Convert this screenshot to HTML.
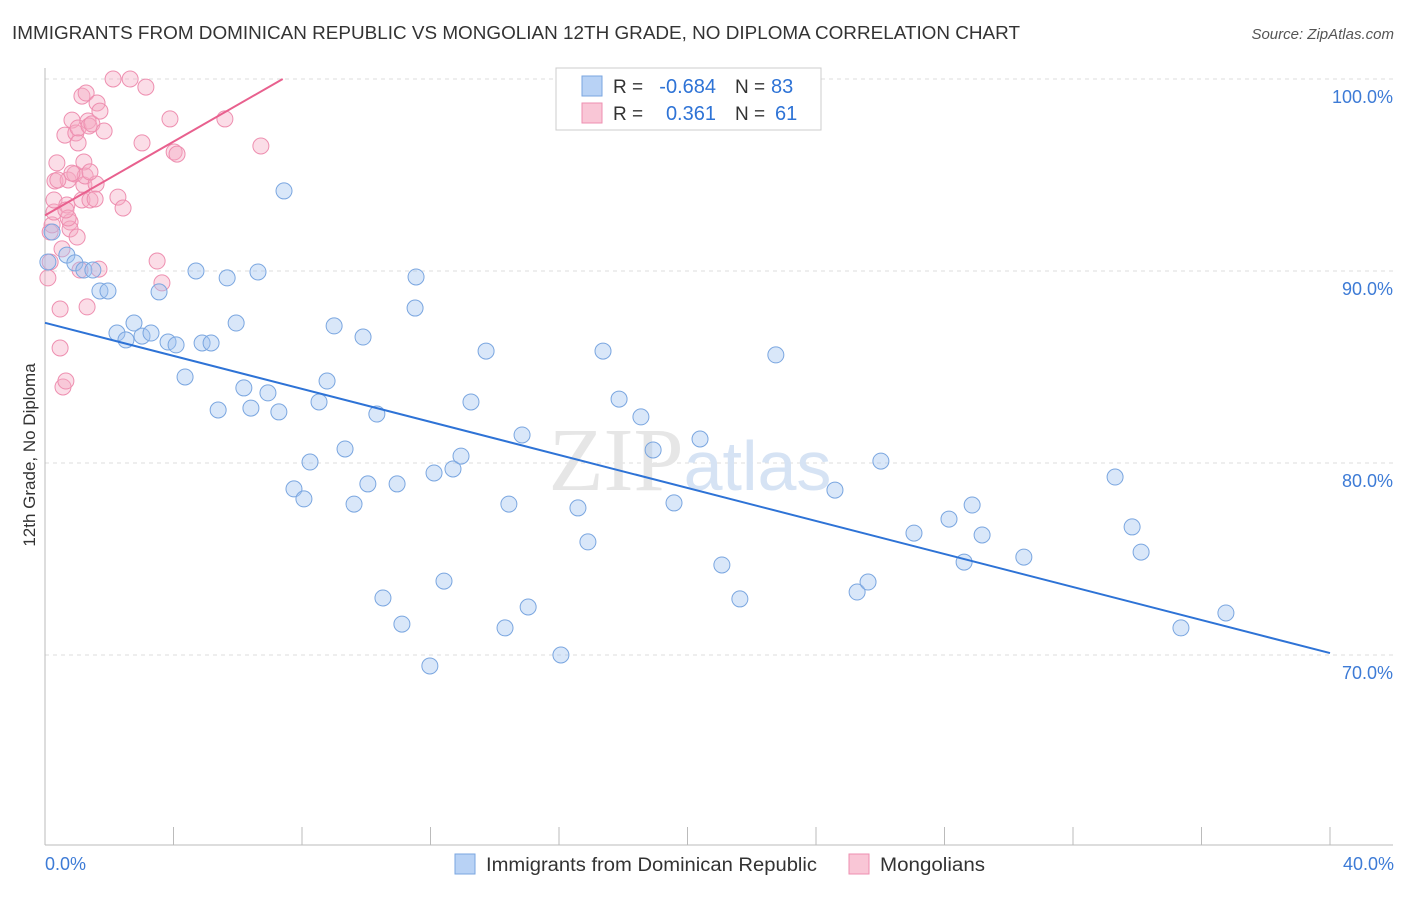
<!DOCTYPE html>
<html><head><meta charset="utf-8"><style>
body{margin:0;background:#fff;font-family:"Liberation Sans",sans-serif;}
</style></head><body>
<svg width="1406" height="892" xmlns="http://www.w3.org/2000/svg">
<text x="12" y="39" font-size="18" fill="#333" textLength="1008" lengthAdjust="spacingAndGlyphs">IMMIGRANTS FROM DOMINICAN REPUBLIC VS MONGOLIAN 12TH GRADE, NO DIPLOMA CORRELATION CHART</text>
<text x="1394" y="39" font-size="15" fill="#555" font-style="italic" text-anchor="end">Source: ZipAtlas.com</text>
<g id="grid"></g>
<text x="690" y="490" font-size="90" fill="#e6e6e6" text-anchor="middle" font-family="Liberation Serif">ZIP<tspan fill="#d6e3f4" font-family="Liberation Sans" font-size="70">atlas</tspan></text>
<g id="marks"></g>
<text transform="translate(35,455) rotate(-90)" font-size="17" fill="#333" text-anchor="middle">12th Grade, No Diploma</text>
<text x="45" y="870" font-size="18" fill="#3d7bd6">0.0%</text>
<text x="1394" y="870" font-size="18" fill="#3d7bd6" text-anchor="end">40.0%</text>
<g>
<rect x="556" y="68" width="265" height="62" fill="#fff" stroke="#ccc"/>
<rect x="582" y="76" width="20" height="20" fill="#b8d2f5" stroke="#7aa6e0"/>
<rect x="582" y="103" width="20" height="20" fill="#f9c6d6" stroke="#ee8fb0"/>
<text x="613" y="93" font-size="19" fill="#333">R =</text>
<text x="716" y="93" font-size="20" fill="#2e73d6" text-anchor="end">-0.684</text>
<text x="735" y="93" font-size="19" fill="#333">N =</text>
<text x="771" y="93" font-size="20" fill="#2e73d6">83</text>
<text x="613" y="120" font-size="19" fill="#333">R =</text>
<text x="716" y="120" font-size="20" fill="#2e73d6" text-anchor="end">0.361</text>
<text x="735" y="120" font-size="19" fill="#333">N =</text>
<text x="775" y="120" font-size="20" fill="#2e73d6">61</text>
</g>
<g>
<rect x="455" y="854" width="20" height="20" fill="#b8d2f5" stroke="#7aa6e0"/>
<text x="486" y="871" font-size="19" fill="#333" textLength="331" lengthAdjust="spacingAndGlyphs">Immigrants from Dominican Republic</text>
<rect x="849" y="854" width="20" height="20" fill="#f9c6d6" stroke="#ee8fb0"/>
<text x="880" y="871" font-size="19" fill="#333" textLength="105" lengthAdjust="spacingAndGlyphs">Mongolians</text>
</g>
</svg>
<script>
const bluePx=[[52,232],[48,262],[67,255],[75,263],[84,270],[93,270],[100,291],[108,291],[117,333],[126,340],[134,323],[142,336],[151,333],[159,292],[168,342],[176,345],[185,377],[196,271],[202,343],[211,343],[218,410],[227,278],[236,323],[244,388],[251,408],[258,272],[268,393],[279,412],[284,191],[294,489],[304,499],[310,462],[319,402],[327,381],[334,326],[345,449],[354,504],[363,337],[368,484],[377,414],[383,598],[397,484],[402,624],[416,277],[415,308],[430,666],[434,473],[444,581],[453,469],[461,456],[471,402],[486,351],[505,628],[509,504],[522,435],[528,607],[561,655],[578,508],[588,542],[603,351],[619,399],[641,417],[653,450],[674,503],[700,439],[722,565],[740,599],[776,355],[835,490],[857,592],[868,582],[881,461],[914,533],[949,519],[964,562],[972,505],[982,535],[1024,557],[1115,477],[1132,527],[1141,552],[1181,628],[1226,613]];
const pinkPx=[[48,278],[50,262],[50,232],[52,225],[54,212],[54,200],[55,181],[57,163],[60,309],[60,348],[63,387],[66,381],[65,135],[67,205],[68,180],[70,222],[70,229],[68,218],[72,120],[75,174],[76,133],[77,237],[78,128],[80,270],[82,96],[82,200],[84,185],[84,162],[85,176],[86,93],[87,307],[88,121],[89,126],[90,200],[92,124],[95,199],[96,184],[97,103],[99,269],[100,111],[104,131],[113,79],[118,197],[123,208],[130,79],[142,143],[146,87],[157,261],[162,283],[170,119],[174,152],[177,154],[225,119],[261,146],[62,249],[58,180],[72,173],[66,210],[90,172],[78,143]];
const blueX=bluePx.map(p=>+((p[0]-45)/32.125).toFixed(2));
const blueY=bluePx.map(p=>+(100-(p[1]-79)/19.2).toFixed(2));
const pinkX=pinkPx.map(p=>+((p[0]-45)/32.125).toFixed(2));
const pinkY=pinkPx.map(p=>+(100-(p[1]-79)/19.2).toFixed(2));
const yTicks=[100,90,80,70];
const yTickLabels=["100.0%","90.0%","80.0%","70.0%"];
const xTicks=[0,4,8,12,16,20,24,28,32,36,40];
const blueTrend=[[0,87.3],[40,70.1]];
const pinkTrend=[[0,92.9],[7.4,100]];
const sx=v=>45+v*32.125, sy=v=>79+(100-v)*19.2;
const NS="http://www.w3.org/2000/svg";
const grid=document.getElementById('grid'), marks=document.getElementById('marks');
function mk(tag,attrs,parent){const e=document.createElementNS(NS,tag);for(const k in attrs)e.setAttribute(k,attrs[k]);parent.appendChild(e);return e;}
yTicks.forEach((t,i)=>{
 const l=mk('line',{x1:45,x2:1393,y1:sy(t),y2:sy(t),stroke:'#ddd','stroke-dasharray':'4,4'},grid);
 
 
 const tx=mk('text',{x:1393,y:sy(t)+24,'font-size':18,fill:'#3d7bd6','text-anchor':'end'},grid);
 tx.textContent=yTickLabels[i];
 
 
});
const ax=mk('line',{x1:45,x2:1393,y1:845,y2:845,stroke:'#bbb'},grid);


const ay=mk('line',{x1:45,x2:45,y1:68,y2:845,stroke:'#bbb'},grid);


xTicks.forEach(t=>{
 const l=mk('line',{x1:sx(t),x2:sx(t),y1:827,y2:845,stroke:'#bbb'},grid);
 
 
});
function pts(X,Y,fill,stroke,name){X.forEach((x,i)=>{
 const c=mk('circle',{cx:sx(x),cy:sy(Y[i]),r:8,fill:fill,stroke:stroke,'stroke-width':1},marks);
 
 
});}
pts(pinkX,pinkY,'rgba(245,170,195,0.4)','#ee8fb0','mongolian-point');
pts(blueX,blueY,'rgba(160,195,240,0.4)','#7aa6e0','dominican-point');
const bl=mk('line',{x1:sx(blueTrend[0][0]),y1:sy(blueTrend[0][1]),x2:sx(blueTrend[1][0]),y2:sy(blueTrend[1][1]),stroke:'#2e73d6','stroke-width':2},marks);


const pl=mk('line',{x1:sx(pinkTrend[0][0]),y1:sy(pinkTrend[0][1]),x2:sx(pinkTrend[1][0]),y2:sy(pinkTrend[1][1]),stroke:'#e8608e','stroke-width':2},marks);


</script>
</body></html>
